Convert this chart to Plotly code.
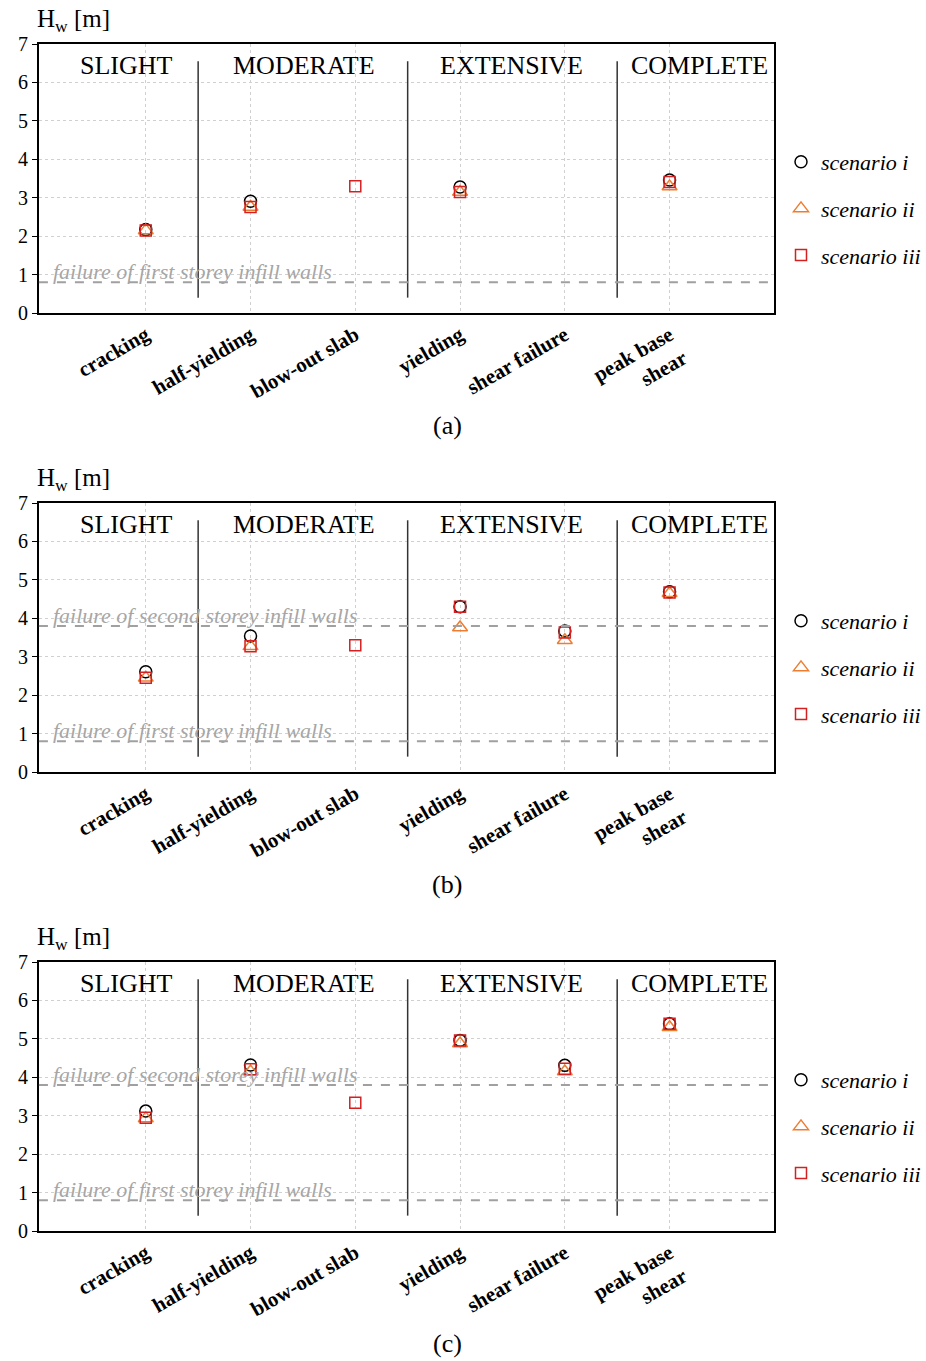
import plotly.graph_objects as go

# ---------------- data ----------------
categories = ["cracking", "half-yielding", "blow-out slab", "yielding",
              "shear failure", "peak base<br>shear"]
damage_states = ["SLIGHT", "MODERATE", "EXTENSIVE", "COMPLETE"]
scenario_names = ["scenario i", "scenario ii", "scenario iii"]

a_i = [2.17, 2.91, None, 3.28, None, 3.46]
a_ii = [2.15, 2.76, None, 3.15, None, 3.29]
a_iii = [2.15, 2.76, 3.30, 3.15, None, 3.41]

b_i = [2.61, 3.54, None, 4.30, 3.67, 4.69]
b_ii = [2.45, 3.27, None, 3.76, 3.43, 4.65]
b_iii = [2.45, 3.27, 3.30, 4.30, 3.63, 4.67]

c_i = [3.12, 4.32, None, 4.96, 4.31, 5.39]
c_ii = [2.93, 4.15, None, 4.88, 4.15, 5.30]
c_iii = [2.95, 4.21, 3.34, 4.96, 4.22, 5.39]

first_storey_failure = 0.8
second_storey_failure = 3.8
panel_labels = ["(a)", "(b)", "(c)"]

# ---------------- layout helpers ----------------
FW, FH = 926, 1361
FONT = "Liberation Serif"


def px(x):
    return x / FW


def py(y):
    return 1 - y / FH


panels = [
    dict(data=[a_i, a_ii, a_iii], top=44, bottom=313, lines=[first_storey_failure]),
    dict(data=[b_i, b_ii, b_iii], top=503, bottom=772,
         lines=[first_storey_failure, second_storey_failure]),
    dict(data=[c_i, c_ii, c_iii], top=962, bottom=1231,
         lines=[first_storey_failure, second_storey_failure]),
]
line_labels = {first_storey_failure: "failure of first storey infill walls",
               second_storey_failure: "failure of second storey infill walls"}

marker_styles = [
    dict(symbol="circle-open", size=12, color="#000000", line=dict(width=1.5, color="#000000")),
    dict(symbol="triangle-up-open", size=13, color="#ED7D31", line=dict(width=1.5, color="#ED7D31")),
    dict(symbol="square-open", size=11, color="#D42020", line=dict(width=1.5, color="#D42020")),
]

x_idx = list(range(len(categories)))
xdom = [px(39), px(776)]

fig = go.Figure()
shapes = []
annotations = []
layout = {}

ds_x = [-0.18, 1.51, 3.49, 5.29]
sep_x = [0.5, 2.5, 4.5]

for p, pan in enumerate(panels):
    n = "" if p == 0 else str(p + 1)
    xa, ya = "x" + n, "y" + n
    ydom = [py(pan["bottom"]), py(pan["top"])]
    leg = "legend" + n

    for k, (vals, ms) in enumerate(zip(pan["data"], marker_styles)):
        fig.add_trace(go.Scatter(
            x=x_idx, y=vals, mode="markers", name="<i>" + scenario_names[k] + "</i>",
            marker=ms, xaxis=xa, yaxis=ya, legend=leg,
            legendgroup=f"p{p}s{k}", showlegend=True, cliponaxis=False,
        ))

    layout["xaxis" + n] = dict(
        domain=xdom, anchor=ya, range=[-1.02, 6.0],
        tickmode="array", tickvals=x_idx,
        ticktext=["<b>" + c + "</b>" for c in categories],
        tickangle=-30, tickfont=dict(family=FONT, size=21, color="black"),
        showgrid=True, gridcolor="#d0d0d0", griddash="dot", gridwidth=1,
        showline=True, linecolor="black", linewidth=1.5, mirror=True,
        ticks="", zeroline=False, automargin=False,
    )
    layout["yaxis" + n] = dict(
        domain=ydom, anchor=xa, range=[0, 7], dtick=1, tick0=0,
        tickfont=dict(family=FONT, size=20, color="black"),
        showgrid=True, gridcolor="#d0d0d0", griddash="dot", gridwidth=1,
        showline=True, linecolor="black", linewidth=2, mirror=True,
        ticks="outside", ticklen=5, tickcolor="black", tickwidth=1,
        zeroline=False, automargin=False,
    )
    # separators between damage states
    for sx in sep_x:
        shapes.append(dict(type="line", xref=xa, yref=ya, x0=sx, x1=sx, y0=0.4, y1=6.55,
                           line=dict(color="#333333", width=1.5)))
    # threshold lines
    for lv in pan["lines"]:
        shapes.append(dict(type="line", xref=xa + " domain", yref=ya, x0=0, x1=1, y0=lv, y1=lv,
                           line=dict(color="#a0a0a0", width=2, dash="dash")))
        annotations.append(dict(xref=xa, yref=ya, x=-0.9, y=lv + 0.27, xanchor="left",
                                yanchor="middle", showarrow=False,
                                text="<i>" + line_labels[lv] + "</i>",
                                font=dict(family=FONT, size=22, color="#a6a6a6")))
    # damage state labels
    for dx, ds in zip(ds_x, damage_states):
        annotations.append(dict(xref=xa, yref=ya, x=dx, y=6.43, xanchor="center", yanchor="middle",
                                showarrow=False, text=ds,
                                font=dict(family=FONT, size=26, color="black")))
    # axis title
    annotations.append(dict(xref="paper", yref="paper", x=px(35), y=py(pan["top"] - 24),
                            xanchor="left", yanchor="middle", showarrow=False,
                            text="H<sub>w</sub> [m]",
                            font=dict(family=FONT, size=25, color="black")))
    # panel label
    annotations.append(dict(xref="paper", yref="paper", x=px(448), y=py(pan["bottom"] + 112),
                            xanchor="center", yanchor="middle", showarrow=False,
                            text=panel_labels[p],
                            font=dict(family=FONT, size=26, color="black")))
    # legend
    center_pix = (pan["top"] + pan["bottom"]) / 2 + 30
    layout[leg] = dict(x=px(783), xanchor="left", y=py(center_pix), yanchor="middle",
                       font=dict(family=FONT, size=22, color="black"),
                       traceorder="grouped", tracegroupgap=15,
                       bgcolor="rgba(0,0,0,0)", itemwidth=30)

fig.update_layout(
    width=FW, height=FH, margin=dict(l=0, r=0, t=0, b=0),
    paper_bgcolor="white", plot_bgcolor="white",
    shapes=shapes, annotations=annotations, **layout,
)

# remove the browser's default 8px body margin so the figure fills the window exactly
fig.write_html(
    "out.html",
    config={"displayModeBar": False},
    post_script="document.body.style.margin='0';"
                "document.documentElement.style.overflow='hidden';"
                "document.body.style.overflow='hidden';",
)
